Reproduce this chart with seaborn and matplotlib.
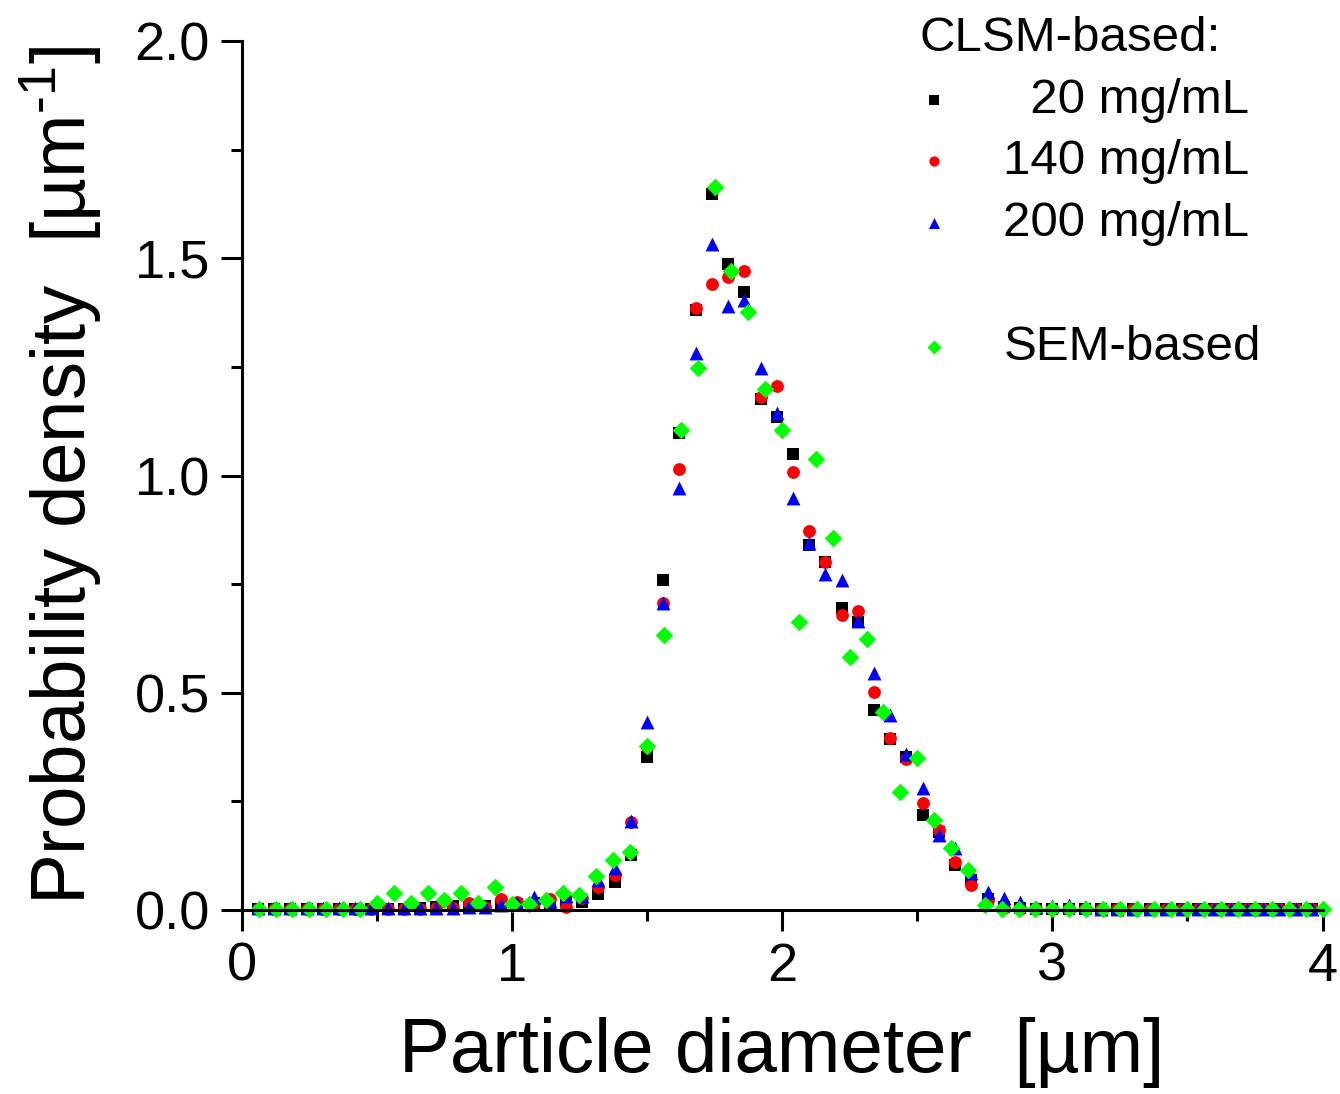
import numpy as np
import pandas as pd
import seaborn as sns
import matplotlib.pyplot as plt
from matplotlib.lines import Line2D
from matplotlib.ticker import MultipleLocator, FormatStrFormatter

# CLSM bins: centres every 0.06 um, SEM bins every 1/16 um
clsm_x = np.round(np.arange(1, 67) * 0.06, 2)
sem_x = np.arange(1, 65) * 0.0625

dens_20 = [0.003] * 10 + [0.005, 0.006, 0.009, 0.007, 0.010, 0.013, 0.013, 0.017, 0.016, 0.021,
           0.018, 0.036, 0.065, 0.127, 0.351, 0.760, 1.097, 1.381, 1.649, 1.487,
           1.423, 1.175, 1.134, 1.049, 0.841, 0.800, 0.694, 0.663, 0.460, 0.393,
           0.353, 0.218, 0.180, 0.104, 0.069, 0.025, 0.008, 0.004] + [0.003] * 18

dens_140 = [0.003] * 11 + [0.004, 0.005, 0.017, 0.008, 0.025, 0.018, 0.016, 0.025, 0.008,
            0.027, 0.054, 0.080, 0.203, 0.376, 0.706, 1.016, 1.385, 1.441, 1.457,
            1.470, 1.180, 1.205, 1.007, 0.872, 0.800, 0.679, 0.689, 0.501, 0.395,
            0.347, 0.247, 0.183, 0.111, 0.058, 0.022, 0.005] + [0.003] * 19

dens_200 = [0.004] * 12 + [0.005, 0.006, 0.008, 0.012, 0.015, 0.030, 0.020, 0.033,
            0.032, 0.070, 0.096, 0.205, 0.433, 0.706, 0.972, 1.281, 1.533, 1.391,
            1.404, 1.247, 1.144, 0.949, 0.845, 0.773, 0.759, 0.665, 0.546, 0.449,
            0.360, 0.280, 0.173, 0.142, 0.084, 0.042, 0.028, 0.018, 0.008, 0.010,
            0.012, 0.008] + [0.003] * 14

dens_sem = [0.002] * 7 + [0.017, 0.038, 0.015, 0.040, 0.024, 0.040, 0.015, 0.052, 0.014,
            0.014, 0.024, 0.040, 0.035, 0.078, 0.116, 0.134, 0.378, 0.634, 1.105,
            1.247, 1.665, 1.471, 1.376, 1.198, 1.105, 0.663, 1.039, 0.857, 0.583,
            0.623, 0.455, 0.272, 0.349, 0.206, 0.142, 0.092, 0.012] + [0.002] * 20

sns.set_style('ticks')
plt.rcParams['font.family'] = ['Liberation Sans', 'DejaVu Sans']
plt.rcParams['mathtext.fontset'] = 'custom'
plt.rcParams['mathtext.rm'] = 'Liberation Sans'
plt.rcParams['text.color'] = 'black'
plt.rcParams['axes.labelcolor'] = 'black'
plt.rcParams['xtick.color'] = 'black'
plt.rcParams['ytick.color'] = 'black'

fig = plt.figure(figsize=(13.4, 10.94), dpi=100)
ax = fig.add_axes([0.1804, 0.1682, 0.8066, 0.7943])

sns.scatterplot(x=clsm_x, y=dens_20, marker='s', color='black', s=75, linewidth=0,
                ax=ax, label='  20 mg/mL')
sns.scatterplot(x=clsm_x, y=dens_140, marker='o', color='#ff0000', s=85, linewidth=0,
                ax=ax, label='140 mg/mL')
sns.scatterplot(x=clsm_x, y=dens_200, marker='^', color='#0000ff', s=100, linewidth=0,
                ax=ax, label='200 mg/mL')
sns.scatterplot(x=sem_x, y=dens_sem, marker='D', color='#00ff00', s=80, linewidth=0,
                ax=ax, label='SEM-based')

ax.set_xlim(0, 4)
ax.set_ylim(0, 2.0)
ax.xaxis.set_major_locator(MultipleLocator(1))
ax.xaxis.set_minor_locator(MultipleLocator(0.5))
ax.yaxis.set_major_locator(MultipleLocator(0.5))
ax.yaxis.set_minor_locator(MultipleLocator(0.25))
ax.yaxis.set_major_formatter(FormatStrFormatter('%.1f'))
ax.tick_params(which='major', direction='out', length=15, width=2.2, labelsize=39, pad=8,
               colors='black')
ax.tick_params(which='minor', direction='out', length=8, width=2.2, colors='black')
for side in ['top', 'right']:
    ax.spines[side].set_visible(False)
for side in ['left', 'bottom']:
    ax.spines[side].set_linewidth(2.2)
    ax.spines[side].set_color('black')
for c in ax.collections:
    c.set_clip_on(False)

ax.set_xlabel('Particle diameter  [µm]', fontsize=55, labelpad=18, color='black')
ax.set_ylabel(r'Probability density  [µm$^{\text{-}1}$]', fontsize=55, labelpad=22,
              color='black')

handles, labels = ax.get_legend_handles_labels()
blank = Line2D([], [], linestyle='none', marker=None)
handles = handles[:3] + [blank] + handles[3:]
labels = labels[:3] + [' '] + labels[3:]
leg = ax.legend(handles, labels, title='CLSM-based:', loc='upper left',
                bbox_to_anchor=(0.627, 1.029), frameon=False, fontsize=35.5,
                title_fontsize=35.5, alignment='left', markerscale=0.8,
                handlelength=0.6, handletextpad=1.1, labelspacing=0.34,
                borderpad=0, borderaxespad=0)

plt.savefig('out.png', dpi=100)
